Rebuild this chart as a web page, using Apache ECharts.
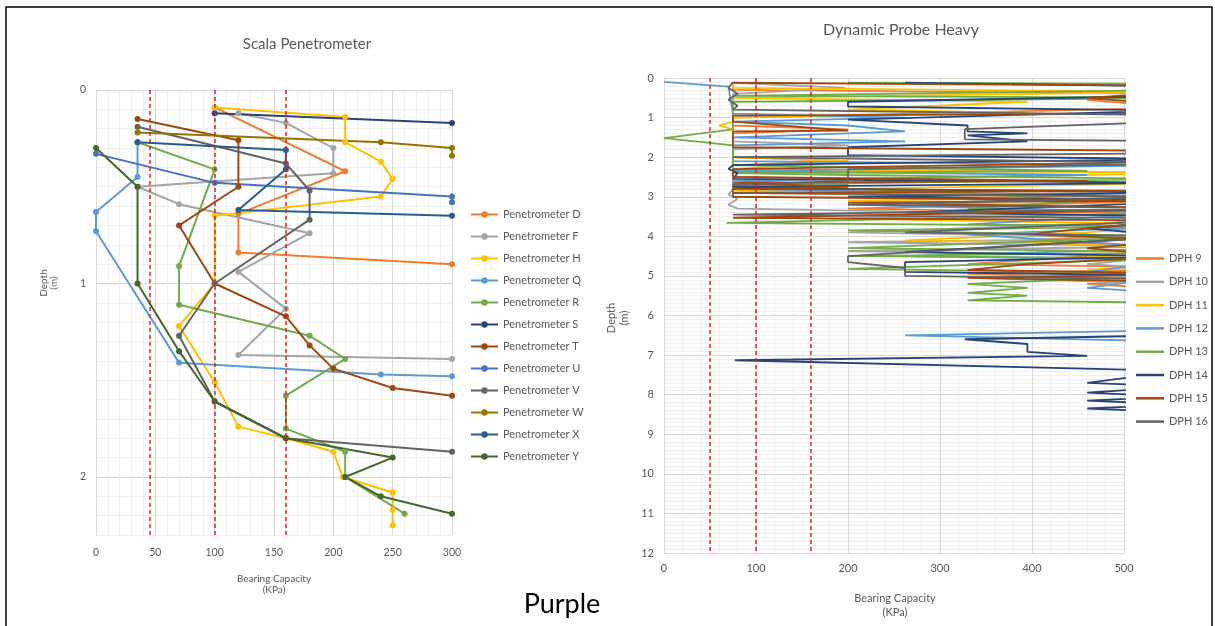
<!DOCTYPE html>
<html><head><meta charset="utf-8">
<script src="https://cdn.jsdelivr.net/npm/echarts@6.0.0/dist/echarts.min.js"></script>
<style>html,body{margin:0;padding:0;background:#fff}#c{width:1215px;height:626px}</style>
</head><body><div id="c"></div>
<script>
// ---------- Scala Penetrometer data: [bearing capacity kPa, depth m] ----------
const scalaNames = ['Penetrometer D','Penetrometer F','Penetrometer H','Penetrometer Q','Penetrometer R','Penetrometer S','Penetrometer T','Penetrometer U','Penetrometer V','Penetrometer W','Penetrometer X','Penetrometer Y'];
const scalaColors = ['#ED7D31','#A5A5A5','#FFC000','#5B9BD5','#70AD47','#264478','#9E480E','#4472C4','#636363','#997300','#255E91','#43682B'];
const penD = [[100,0.09],[210,0.42],[120,0.64],[120,0.84],[300,0.9]];
const penF = [[120,0.12],[160,0.17],[200,0.3],[200,0.43],[35,0.5],[70,0.59],[180,0.74],[120,0.94],[160,1.13],[120,1.37],[300,1.39]];
const penH = [[100,0.09],[210,0.14],[210,0.27],[240,0.37],[250,0.46],[240,0.55],[100,0.65],[100,1.0],[70,1.22],[100,1.51],[120,1.74],[160,1.8],[200,1.87],[208,2.0],[250,2.08],[250,2.17],[250,2.25]];
const penQ = [[35,0.27],[35,0.45],[0,0.63],[0,0.73],[70,1.41],[240,1.47],[300,1.48]];
const penR = [[35,0.27],[100,0.41],[70,0.91],[70,1.11],[180,1.27],[210,1.39],[160,1.58],[160,1.75],[210,1.87],[210,2.0],[260,2.19]];
const penS = [[100,0.12],[300,0.17]];
const penT = [[35,0.15],[120,0.26],[120,0.5],[70,0.7],[100,1.0],[160,1.17],[180,1.32],[200,1.44],[250,1.54],[300,1.58]];
const penU = [[0,0.33],[100,0.48],[300,0.55],[300,0.58]];
const penV = [[35,0.19],[160,0.38],[180,0.52],[180,0.67],[100,1.0],[70,1.27],[100,1.61],[160,1.8],[300,1.87]];
const penW = [[35,0.22],[240,0.27],[300,0.3],[300,0.34]];
const penX = [[35,0.27],[160,0.31],[160,0.41],[120,0.62],[300,0.65]];
const penY = [[0,0.3],[35,0.5],[35,1.0],[70,1.35],[100,1.61],[160,1.8],[250,1.9],[210,2.0],[240,2.1],[300,2.19]];
const scalaData = [penD,penF,penH,penQ,penR,penS,penT,penU,penV,penW,penX,penY];
const scalaLimits = [45,100,160];

// ---------- Dynamic Probe Heavy data: [bearing capacity kPa, depth m] ----------
const dphNames = ['DPH 9','DPH 10','DPH 11','DPH 12','DPH 13','DPH 14','DPH 15','DPH 16'];
const dphColors = ['#ED7D31','#A5A5A5','#FFC000','#5B9BD5','#70AD47','#264478','#9E480E','#636363'];
const dph9 = [[75,0.1],[75,0.3],[560,0.4],[460,0.55],[560,0.75],[75,1.0],[75,1.2],[200,1.3],[75,1.4],[75,2.0],[200,2.1],[75,2.2],[75,2.5],[330,2.6],[75,2.7],[75,2.9],[460,3.0],[560,3.1],[200,3.3],[600,3.45],[460,3.7],[560,3.9],[395,4.1],[560,4.3],[460,4.5],[330,4.7],[600,4.8],[330,4.95],[560,5.1],[460,5.2],[560,5.35]];
const dph10 = [[75,0.12],[197,0.25],[75,0.4],[75,1.6],[200,1.7],[75,1.8],[75,2.8],[70,2.95],[80,3.05],[70,3.2],[80,3.3],[460,3.45],[560,3.6],[200,3.9],[560,4.05],[200,4.15],[560,4.25],[200,4.37],[560,4.5],[460,4.7],[600,4.9],[330,5.05],[560,5.2]];
const dph11 = [[75,0.1],[75,0.25],[560,0.35],[75,0.5],[395,0.6],[200,0.8],[395,0.88],[75,1.0],[75,1.1],[60,1.2],[75,1.3],[75,2.0],[200,2.1],[75,2.3],[600,2.4],[200,2.55],[560,2.65],[330,2.75],[75,2.85],[560,3.0],[200,3.1],[395,3.2],[395,3.45],[200,3.55],[560,3.7],[460,3.9],[262,4.1],[395,4.15],[560,4.3],[460,4.5],[600,4.65],[460,4.85],[560,5.0],[460,5.1],[560,5.2]];
const dph12 = [[0,0.1],[70,0.22],[75,0.9],[262,1.0],[75,1.1],[200,1.2],[262,1.35],[75,1.5],[262,1.6],[75,1.7],[75,2.1],[560,2.2],[75,2.35],[460,2.45],[75,2.6],[200,2.7],[75,2.8],[560,3.0],[200,3.2],[560,3.4],[330,3.7],[560,3.75],[330,3.95],[460,4.15],[560,4.3],[262,4.5],[560,4.6],[460,4.9],[560,5.0],[460,5.3],[560,5.45],[600,6.35],[262,6.5],[600,6.68]];
const dph13 = [[200,0.12],[600,0.15],[560,0.3],[75,0.45],[600,0.5],[75,0.6],[75,1.3],[0,1.52],[75,1.7],[75,2.2],[460,2.35],[75,2.4],[200,2.45],[560,2.55],[75,2.7],[330,2.9],[395,3.0],[460,3.1],[330,3.3],[560,3.4],[68,3.66],[560,3.75],[200,3.85],[560,4.0],[200,4.3],[600,4.4],[200,4.5],[560,4.55],[200,4.82],[600,4.95],[330,5.2],[395,5.3],[330,5.43],[395,5.5],[330,5.62],[560,5.68]];
const dph14 = [[262,0.12],[600,0.22],[560,0.45],[200,0.6],[200,0.72],[560,0.82],[200,1.05],[330,1.2],[330,1.35],[395,1.4],[330,1.45],[395,1.6],[200,1.75],[200,1.95],[560,2.05],[75,2.2],[70,2.3],[80,2.4],[75,2.55],[560,2.65],[75,2.75],[200,2.8],[560,2.9],[200,3.0],[600,3.1],[262,3.4],[600,3.5],[460,3.8],[560,4.0],[262,4.4],[560,4.5],[262,4.65],[262,4.9],[600,5.0],[560,5.1],[600,5.3],[560,6.5],[327,6.6],[395,6.72],[395,6.92],[460,7.02],[77,7.13],[560,7.4],[460,7.7],[560,7.8],[460,7.95],[560,8.05],[460,8.15],[560,8.25],[460,8.35],[560,8.45]];
const dph15 = [[75,0.12],[600,0.2],[560,0.35],[460,0.5],[560,0.7],[560,0.9],[75,0.95],[75,1.1],[200,1.33],[75,1.35],[75,1.75],[600,1.85],[560,2.0],[600,2.1],[75,2.3],[75,2.5],[460,2.6],[75,2.65],[75,2.7],[200,2.75],[75,2.8],[560,2.85],[75,2.9],[75,3.0],[560,3.1],[200,3.15],[600,3.3],[75,3.53],[560,3.6],[460,3.8],[395,3.95],[560,4.1],[460,4.3],[560,4.5],[395,4.7],[330,4.85],[600,4.95],[330,5.05],[560,5.15]];
const dph16 = [[75,0.1],[70,0.25],[80,0.4],[70,0.55],[80,0.7],[75,0.8],[600,0.95],[560,1.1],[327,1.29],[327,1.55],[600,1.6],[560,1.9],[75,2.0],[75,2.05],[600,2.15],[200,2.3],[200,2.6],[75,2.7],[75,2.9],[560,3.0],[200,3.2],[600,3.3],[75,3.45],[600,3.55],[262,3.9],[560,4.0],[200,4.5],[200,4.65],[262,4.8],[262,5.0],[600,5.1]];
const dphData = [dph9,dph10,dph11,dph12,dph13,dph14,dph15,dph16];
const dphLimits = [50,100,160];

// ---------- axis ticks ----------
const scalaXTicks = [0,50,100,150,200,250,300];
const scalaYTicks = [0,1,2];
const dphXTicks = [0,100,200,300,400,500];
const dphYTicks = [0,1,2,3,4,5,6,7,8,9,10,11,12];

const FONT = 'Lato, "Open Sans", sans-serif';
const TXT = '#595959';
function near(v, list){ for (const t of list){ if (Math.abs(v-t) < 1e-6) return String(t); } return ''; }
function gridColors(n){ const a=['#d9d9d9']; for(let i=1;i<n;i++) a.push('#f0f0f0'); return a; }

const chart = echarts.init(document.getElementById('c'), null, {renderer:'canvas'});
const redLine = (vals) => ({
  silent:true, symbol:'none', label:{show:false}, animation:false,
  lineStyle:{color:'#d42626', type:[4,3], width:1.5},
  data: vals.map(v => ({xAxis:v}))
});

const series = [];
scalaData.forEach((d,i) => {
  series.push({
    name: scalaNames[i], type:'line', xAxisIndex:0, yAxisIndex:0, data:d,
    symbol:'circle', symbolSize:6, color:scalaColors[i],
    lineStyle:{width:2, color:scalaColors[i]}, itemStyle:{color:scalaColors[i]},
    markLine: i===0 ? redLine(scalaLimits) : undefined
  });
});
dphData.forEach((d,i) => {
  series.push({
    name: dphNames[i], type:'line', xAxisIndex:1, yAxisIndex:1, data:d,
    symbol:'none', showSymbol:false, color:dphColors[i], clip:true,
    lineStyle:{width:1.8, color:dphColors[i]},
    markLine: i===0 ? redLine(dphLimits) : undefined
  });
});

const option = {
  animation:false,
  backgroundColor:'#ffffff',
  grid:[
    {left:96, top:90, width:356, height:445},
    {left:664, top:78, width:460, height:475}
  ],
  xAxis:[
    {type:'value', gridIndex:0, min:0, max:300, interval:10,
     axisLine:{show:true, lineStyle:{color:'#d9d9d9'}}, axisTick:{show:false},
     axisLabel:{interval:0, color:TXT, fontSize:10.5, fontFamily:FONT, margin:12, formatter:v=>near(v,scalaXTicks)},
     splitLine:{show:true, lineStyle:{color:gridColors(5), width:1}}},
    {type:'value', gridIndex:1, min:0, max:500, interval:20,
     axisLine:{show:true, lineStyle:{color:'#d9d9d9'}}, axisTick:{show:false},
     axisLabel:{interval:0, color:TXT, fontSize:11, fontFamily:FONT, margin:10, formatter:v=>near(v,dphXTicks)},
     splitLine:{show:true, lineStyle:{color:gridColors(5), width:1}}}
  ],
  yAxis:[
    {type:'value', gridIndex:0, inverse:true, min:0, max:2.3, interval:0.1,
     axisLine:{show:true, lineStyle:{color:'#d9d9d9'}}, axisTick:{show:false},
     axisLabel:{interval:0, color:TXT, fontSize:10.5, fontFamily:FONT, margin:10, formatter:v=>near(v,scalaYTicks)},
     splitLine:{show:true, lineStyle:{color:gridColors(10), width:1}}},
    {type:'value', gridIndex:1, inverse:true, min:0, max:12, interval:0.1,
     axisLine:{show:true, lineStyle:{color:'#d9d9d9'}}, axisTick:{show:false},
     axisLabel:{interval:0, color:TXT, fontSize:11, fontFamily:FONT, margin:10, formatter:v=>near(v,dphYTicks)},
     splitLine:{show:true, lineStyle:{color:gridColors(10), width:1}}}
  ],
  legend:[
    {data:scalaNames, orient:'vertical', left:470, top:209, padding:0, itemWidth:27, itemHeight:8, itemGap:11,
     textStyle:{color:TXT, fontSize:11, fontFamily:FONT}, selectedMode:false},
    {data:dphNames.map(n=>({name:n, icon:'rect'})), orient:'vertical', left:1136, top:253, padding:0, itemWidth:28, itemHeight:2.5, itemGap:12.3,
     textStyle:{color:TXT, fontSize:11, fontFamily:FONT}, selectedMode:false}
  ],
  graphic:[
    {type:'rect', shape:{x:6, y:7, width:1206, height:640}, style:{fill:'none', stroke:'#000', lineWidth:1.5}, silent:true},
    {type:'text', x:307, y:44, style:{text:'Scala Penetrometer', align:'center', verticalAlign:'middle', fontSize:15, fontFamily:FONT, fill:TXT}},
    {type:'text', x:901, y:30, style:{text:'Dynamic Probe Heavy', align:'center', verticalAlign:'middle', fontSize:16, fontFamily:FONT, fill:TXT}},
    {type:'text', x:49, y:283, rotation:Math.PI/2, style:{text:'Depth\n(m)', align:'center', verticalAlign:'middle', fontSize:10, lineHeight:10, fontFamily:FONT, fill:TXT}},
    {type:'text', x:618, y:318, rotation:Math.PI/2, style:{text:'Depth\n(m)', align:'center', verticalAlign:'middle', fontSize:11, lineHeight:13, fontFamily:FONT, fill:TXT}},
    {type:'text', x:274, y:584, style:{text:'Bearing Capacity\n(KPa)', align:'center', verticalAlign:'middle', fontSize:10, lineHeight:11, fontFamily:FONT, fill:TXT}},
    {type:'text', x:895, y:605, style:{text:'Bearing Capacity\n(KPa)', align:'center', verticalAlign:'middle', fontSize:11, lineHeight:14, fontFamily:FONT, fill:TXT}},
    {type:'text', x:562, y:604, style:{text:'Purple', align:'center', verticalAlign:'middle', fontSize:27, fontFamily:FONT, fill:'#000'}}
  ],
  series: series
};
chart.setOption(option);
</script></body></html>
